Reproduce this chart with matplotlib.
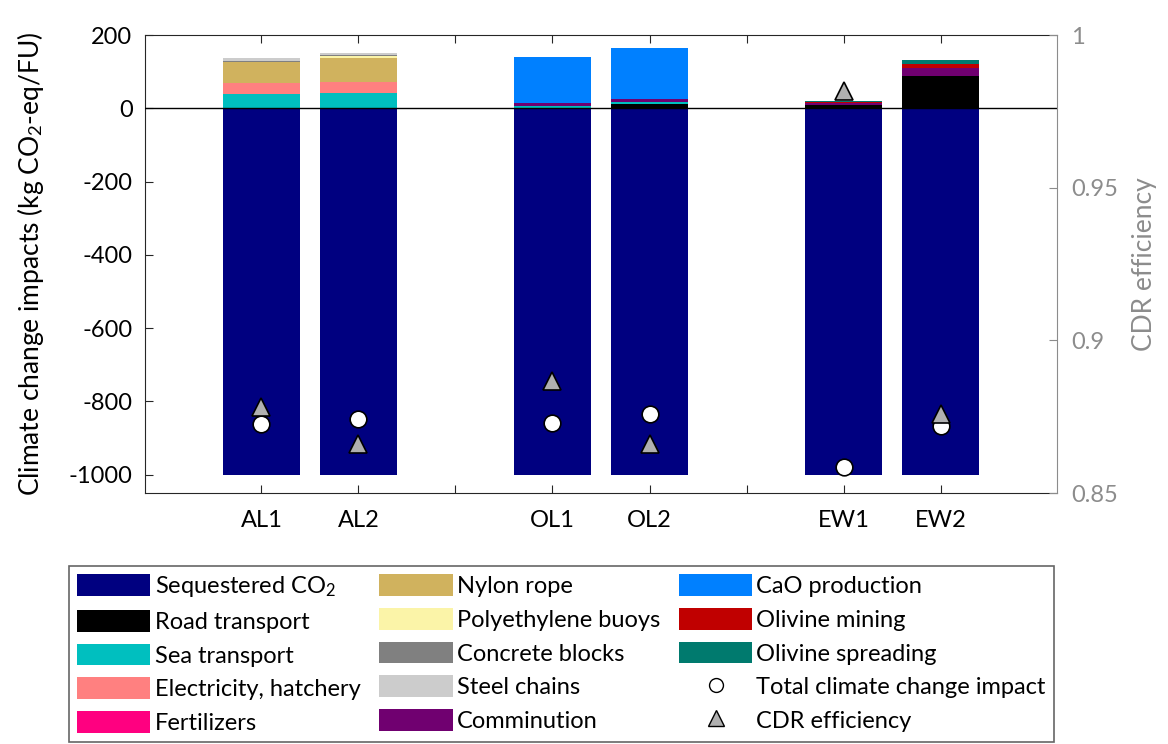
import matplotlib
matplotlib.use("Agg")
import matplotlib.pyplot as plt
import numpy as np
from matplotlib.patches import Patch
from matplotlib.lines import Line2D

plt.rcParams["font.family"] = ["Lato", "DejaVu Sans"]
plt.rcParams["mathtext.fontset"] = "custom"
plt.rcParams["mathtext.rm"] = "Lato"
plt.rcParams["mathtext.it"] = "Lato:italic"
plt.rcParams["axes.unicode_minus"] = False

# -- data ------------------------------------------------------------------------
scenarios = ["AL1", "AL2", "OL1", "OL2", "EW1", "EW2"]
xpos = [1, 2, 4, 5, 7, 8]
tick_pos = [1, 2, 3, 4, 5, 6, 7, 8]
tick_labels = ["AL1", "AL2", "", "OL1", "OL2", "", "EW1", "EW2"]

sequestered = [-1000, -1000, -1000, -1000, -1000, -1000]
road = [0, 0, 2, 11, 9, 88]
sea = [40, 41, 4, 5, 0, 0]
electricity = [29, 32, 0, 0, 0, 0]
fertilizers = [0, 0, 0, 0, 0, 0]
nylon = [57, 64, 0, 0, 0, 0]
buoys = [0, 5, 0, 0, 0, 0]
concrete = [4, 3, 0, 0, 0, 0]
steel = [7, 5, 0, 0, 0, 0]
comminution = [0, 0, 8, 8, 5, 22]
cao = [0, 0, 127, 140, 0, 0]
ol_mining = [0, 0, 0, 0, 4, 12]
ol_spreading = [0, 0, 0, 0, 3, 11]

total_impact = [-862, -848, -858, -835, -980, -867]
cdr_eff = [0.8783, 0.8661, 0.8866, 0.8662, 0.9818, 0.8760]

pos_series = [
    ("Road transport", road, "#000000"),
    ("Sea transport", sea, "#00bfbf"),
    ("Electricity, hatchery", electricity, "#ff8080"),
    ("Fertilizers", fertilizers, "#ff0080"),
    ("Nylon rope", nylon, "#d0b25e"),
    ("Polyethylene buoys", buoys, "#fbf4a8"),
    ("Concrete blocks", concrete, "#808080"),
    ("Steel chains", steel, "#cccccc"),
    ("Comminution", comminution, "#700070"),
    ("CaO production", cao, "#0080ff"),
    ("Olivine mining", ol_mining, "#c00000"),
    ("Olivine spreading", ol_spreading, "#007a6e"),
]
seq_color = "#000080"
grey = "#8c8c8c"
fs = 17

fig = plt.figure(figsize=(11.68, 7.44), dpi=100)
ax = fig.add_axes([145 / 1168, 1 - 493 / 744, 912 / 1168, 458 / 744])
ax2 = ax.twinx()

width = 0.8
ax.bar(xpos, sequestered, width, color=seq_color, lw=0)
bottom = np.zeros(len(xpos))
for name, vals, col in pos_series:
    v = np.array(vals, dtype=float)
    ax.bar(xpos, v, width, bottom=bottom, color=col, lw=0)
    bottom += v
ax.axhline(0, color="black", lw=1, zorder=3)

ax.plot(xpos, total_impact, ls="none", marker="o", ms=12, mfc="white",
        mec="black", mew=1.2, zorder=5)
ax2.plot(xpos, cdr_eff, ls="none", marker="^", ms=13, mfc="#b0b0b0",
         mec="black", mew=1.2, zorder=5)

ax.set_xlim(-0.2, 9.2)
ax.set_ylim(-1050, 200)
ax.set_yticks([200, 0, -200, -400, -600, -800, -1000])
ax.set_xticks(tick_pos)
ax.set_xticklabels(tick_labels)
ax.tick_params(axis="x", direction="in", top=True, length=6, labelsize=fs,
               pad=12, color="#262626")
ax.tick_params(axis="y", direction="in", left=True, right=False, length=6,
               labelsize=fs, pad=9, color="#262626")
ax.set_ylabel("Climate change impacts (kg CO$_2$-eq/FU)", fontsize=fs + 2,
              labelpad=16)
for s in ["left", "top", "bottom"]:
    ax.spines[s].set_color("#262626")
ax.spines["right"].set_visible(False)

ax2.set_ylim(0.85, 1.0)
ax2.set_yticks([0.85, 0.9, 0.95, 1.0])
ax2.set_yticklabels(["0.85", "0.9", "0.95", "1"])
ax2.tick_params(axis="y", direction="in", length=6, labelsize=fs, pad=10,
                colors=grey)
ax2.spines["right"].set_color(grey)
for s in ["left", "top", "bottom"]:
    ax2.spines[s].set_visible(False)
ax2.set_ylabel("CDR efficiency", fontsize=fs + 2, color=grey, labelpad=10)

# -- legend ----------------------------------------------------------------------
handles = [Patch(color=seq_color, lw=0, label="Sequestered CO$_2$")]
handles += [Patch(color=c, lw=0, label=n) for n, _, c in pos_series]
handles += [
    Line2D([], [], ls="none", marker="o", ms=10, mfc="white", mec="black",
           label="Total climate change impact"),
    Line2D([], [], ls="none", marker="^", ms=11, mfc="#b0b0b0", mec="black",
           label="CDR efficiency"),
]
leg = fig.legend(handles=handles, ncol=3, loc="upper left",
                 bbox_to_anchor=(69 / 1168, 1 - 566 / 744),
                 bbox_transform=fig.transFigure, fontsize=fs,
                 frameon=True, fancybox=False, edgecolor="#404040",
                 handlelength=3.1, handleheight=1.05, handletextpad=0.18,
                 columnspacing=0.8, labelspacing=0.45, borderpad=0.35,
                 borderaxespad=0)
leg.get_frame().set_linewidth(1.2)

fig.savefig("out.png", dpi=100)
